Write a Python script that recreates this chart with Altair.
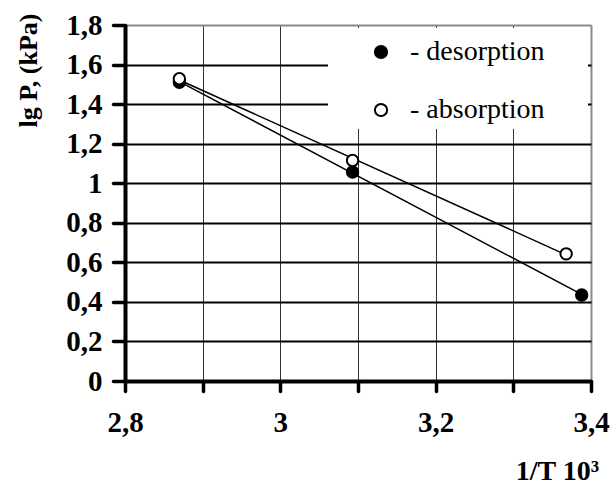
import altair as alt
import pandas as pd

# data
series_names = ["desorption", "absorption"]
des_x = [2.870, 3.093, 3.388]
des_y = [1.510, 1.057, 0.435]
abs_x = [2.870, 3.093, 3.368]
abs_y = [1.528, 1.115, 0.643]

x_ticks = [2.8, 2.9, 3.0, 3.1, 3.2, 3.3, 3.4]
y_ticks = [0, 0.2, 0.4, 0.6, 0.8, 1.0, 1.2, 1.4, 1.6, 1.8]

df = pd.DataFrame({
    "x": des_x + abs_x,
    "y": des_y + abs_y,
    "series": [series_names[0]] * len(des_x) + [series_names[1]] * len(abs_x),
})

FONT = "Liberation Serif"

xscale = alt.Scale(domain=[2.8, 3.4], nice=False, zero=False)
yscale = alt.Scale(domain=[0, 1.8], nice=False)

xaxis = alt.Axis(
    values=x_ticks,
    labelExpr="abs(round(datum.value*10)) % 2 == 0 ? replace(format(datum.value, '~g'), '.', ',') : ''",
    title="1/T 10³",
    titleX=432, titleY=98, titleAlign="center", titleBaseline="alphabetic",
    titleFont=FONT, titleFontSize=28, titleFontWeight="bold", titleColor="black",
    labelFont=FONT, labelFontSize=29, labelFontWeight="bold", labelColor="black",
    labelPadding=17, labelBaseline="top", labelFlush=False, labelOverlap=False,
    domainColor="black", domainWidth=4,
    tickColor="black", tickWidth=3.5, tickSize=10, tickCap="round",
    grid=True,
    gridColor={"condition": {"test": "datum.value > 3.35", "value": "#8a8a8a"}, "value": "#333333"},
    gridWidth={"condition": {"test": "datum.value > 3.35", "value": 2}, "value": 1},
)
yaxis = alt.Axis(
    values=y_ticks,
    labelExpr="replace(format(datum.value, '~g'), '.', ',')",
    title="lg P, (kPa)",
    titleX=-97, titleY=45, titleAngle=270, titleAlign="center", titleBaseline="middle",
    titleFont=FONT, titleFontSize=26, titleFontWeight="bold", titleColor="black",
    labelFont=FONT, labelFontSize=29, labelFontWeight="bold", labelColor="black",
    labelPadding=11, labelBaseline="middle", labelFlush=False, labelOverlap=False,
    domainColor="black", domainWidth=4,
    tickColor="black", tickWidth=3.5, tickSize=12, tickCap="round",
    grid=True,
    gridColor={"condition": {"test": "datum.value > 1.7", "value": "#8a8a8a"}, "value": "black"},
    gridWidth=2,
)

base = alt.Chart(df)

legend_box = base.mark_rect(fill="white", stroke=None).encode(
    x=alt.value(203), x2=alt.value(463), y=alt.value(3), y2=alt.value(104)
)

lines = base.transform_regression(
    "x", "y", groupby=["series"]
).mark_line(color="black", strokeWidth=1.5).encode(
    x=alt.X("x:Q", scale=xscale, axis=xaxis),
    y=alt.Y("y:Q", scale=yscale, axis=yaxis),
    detail="series:N",
)

points = base.mark_point(
    shape="circle", filled=True, stroke="black", strokeWidth=2, size=130, opacity=1
).encode(
    x=alt.X("x:Q", scale=xscale, axis=xaxis),
    y=alt.Y("y:Q", scale=yscale, axis=yaxis),
    fill=alt.Fill(
        "series:N",
        scale=alt.Scale(domain=series_names, range=["black", "white"]),
        sort=series_names,
        legend=alt.Legend(
            orient="none", legendX=242, legendY=13, title=None,
            labelExpr="'- ' + datum.label",
            labelFont=FONT, labelFontSize=28, labelColor="black", labelOffset=15,
            symbolType="circle", symbolSize=150, symbolStrokeColor="black",
            symbolStrokeWidth=2, rowPadding=30, padding=0,
        ),
    ),
)

chart = alt.layer(legend_box, lines, points).properties(
    width=466, height=356,
    autosize=alt.AutoSizeParams(type="none"),
    padding={"left": 125, "top": 25, "right": 20, "bottom": 104},
    background="white",
).configure_view(stroke=None)

chart.save("out.html", embed_options={"renderer": "svg", "actions": False})
